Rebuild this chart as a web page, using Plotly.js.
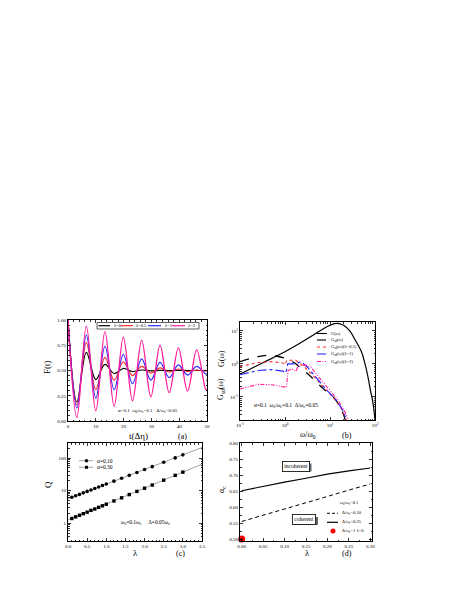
<!DOCTYPE html>
<html>
<head>
<meta charset="utf-8">
<script src="https://cdn.plot.ly/plotly-3.0.1.min.js"></script>
<style>
html, body { margin: 0; padding: 0; background: #fff; }
#myDiv { width: 463px; height: 599px; }
</style>
</head>
<body>
<div id="myDiv"></div>
<script>
// ---- panel (a): F(t), extremes of the oscillation
var t_a = [0, 3.2, 6.6, 10.0, 13.3, 16.6, 19.9, 23.2, 26.5, 29.8, 33.1, 36.4, 39.7, 43.0, 46.3, 49.6, 50];
var f_lam0  = [1.0, 0.19, 0.68, 0.41, 0.56, 0.47, 0.52, 0.49, 0.505, 0.497, 0.502, 0.499, 0.501, 0.50, 0.50, 0.50, 0.50];
var f_lam05 = [1.0, 0.16, 0.775, 0.31, 0.63, 0.405, 0.585, 0.45, 0.54, 0.475, 0.525, 0.485, 0.515, 0.49, 0.505, 0.495, 0.497];
var f_lam1  = [1.0, 0.13, 0.85, 0.225, 0.74, 0.31, 0.66, 0.37, 0.615, 0.405, 0.58, 0.43, 0.555, 0.455, 0.54, 0.465, 0.47];
var f_lam2  = [1.0, 0.035, 0.94, 0.10, 0.885, 0.145, 0.83, 0.20, 0.80, 0.24, 0.75, 0.28, 0.725, 0.295, 0.705, 0.31, 0.315];

// ---- panel (b): spectral densities
var g_w   = [0.1, 0.316, 1, 2, 4, 6.3, 10, 12.6, 15.8, 20, 27.5, 35.5, 50, 60, 71, 79, 89, 100];
var g_val = [0.49, 1.07, 2.34, 4.0, 7.1, 10.5, 14.8, 16.6, 16.6, 14.8, 10, 5.6, 2.34, 1.0, 0.36, 0.16, 0.074, 0.02];
var sd_w   = [0.1, 0.251, 0.501, 1, 1.585, 2.512, 3.98, 7.08, 12.6, 17.8, 21.9];
var sd_val = [1.17, 1.66, 1.82, 1.48, 1.10, 0.66, 0.38, 0.178, 0.089, 0.042, 0.02];
var sd05_w   = [0.1, 0.251, 0.501, 0.891, 1.0, 1.096, 1.738, 2.512, 4.17, 7.59, 13.8, 19.05, 22.9];
var sd05_val = [0.83, 1.10, 1.17, 1.07, 0.93, 1.29, 1.29, 0.89, 0.447, 0.178, 0.076, 0.038, 0.02];
var sd1_w   = [0.1, 0.251, 0.501, 0.891, 1.047, 1.148, 1.585, 2.29, 3.16, 4.47, 7.94, 14.1, 19.5, 23.4];
var sd1_val = [0.468, 0.631, 0.676, 0.603, 0.537, 1.0, 1.0, 1.15, 0.794, 0.447, 0.178, 0.076, 0.038, 0.02];
var sd2_w   = [0.1, 0.251, 0.501, 1, 1.072, 1.175, 1.413, 1.778, 1.95, 2.818, 3.80, 5.25, 8.91, 15.1, 20.9, 25.7];
var sd2_val = [0.174, 0.24, 0.234, 0.2, 0.195, 0.631, 0.708, 0.603, 0.891, 0.933, 0.794, 0.447, 0.191, 0.079, 0.038, 0.02];

// ---- panel (c): Q versus lambda
var lam_c = [0.1, 0.2, 0.3, 0.4, 0.5, 0.6, 0.7, 0.8, 0.9, 1.0, 1.2, 1.4, 1.6, 1.8, 2.0, 2.2, 2.5, 2.8, 3.0];
var q_a010 = [6.3, 7.0, 7.7, 8.6, 9.5, 10.5, 11.7, 13, 14.4, 16, 19.6, 24, 29.5, 36, 44.5, 54.5, 74, 101, 125];
var q_a030 = [1.41, 1.58, 1.77, 1.98, 2.2, 2.5, 2.75, 3.1, 3.45, 3.85, 4.85, 6.05, 7.6, 9.5, 11.9, 14.9, 21, 29.5, 37];
var fit_lam = [0, 3.5];
var fit_a010 = [5.7, 210];
var fit_a030 = [1.27, 65];

// ---- panel (d): alpha_c versus lambda
var lam_d = [0, 0.05, 0.10, 0.15, 0.20, 0.25, 0.30];
var ac_d010 = [0.555, 0.574, 0.594, 0.614, 0.633, 0.653, 0.672];
var ac_d025 = [0.651, 0.665, 0.678, 0.69, 0.703, 0.713, 0.722];
var dot_lam = [0];
var dot_ac = [0.5];

var FONT = 'Liberation Serif, Times New Roman, serif';
var W = 463, H = 599;
function px(x){ return x / W; }
function py(y){ return 1 - y / H; }

var RED = '#ff2a2a', BLUE = '#2a2aff', PINK = '#ff1a9a';

var data = [
    {x: t_a, y: f_lam0,  xaxis: 'x', yaxis: 'y', mode: 'lines', line: {color: 'black', width: 1.2, shape: 'spline'}},
    {x: t_a, y: f_lam05, xaxis: 'x', yaxis: 'y', mode: 'lines', line: {color: RED, width: 1.2, shape: 'spline'}},
    {x: t_a, y: f_lam1,  xaxis: 'x', yaxis: 'y', mode: 'lines', line: {color: BLUE, width: 1.2, shape: 'spline'}},
    {x: t_a, y: f_lam2,  xaxis: 'x', yaxis: 'y', mode: 'lines', line: {color: PINK, width: 1.3, shape: 'spline'}},

    {x: g_w, y: g_val, xaxis: 'x2', yaxis: 'y2', mode: 'lines', line: {color: 'black', width: 1.2, shape: 'spline'}},
    {x: sd_w, y: sd_val, xaxis: 'x2', yaxis: 'y2', mode: 'lines', line: {color: 'black', width: 1.3, dash: 'dash', shape: 'spline'}},
    {x: sd05_w, y: sd05_val, xaxis: 'x2', yaxis: 'y2', mode: 'lines', line: {color: RED, width: 1.1, dash: 'dot'}},
    {x: sd1_w, y: sd1_val, xaxis: 'x2', yaxis: 'y2', mode: 'lines', line: {color: BLUE, width: 1.2, dash: 'dashdot'}},
    {x: sd2_w, y: sd2_val, xaxis: 'x2', yaxis: 'y2', mode: 'lines', line: {color: PINK, width: 1.1, dash: '4px,1.5px,1px,1.5px,1px,1.5px'}},

    {x: fit_lam, y: fit_a010, xaxis: 'x3', yaxis: 'y3', mode: 'lines', line: {color: '#888', width: 0.8}},
    {x: fit_lam, y: fit_a030, xaxis: 'x3', yaxis: 'y3', mode: 'lines', line: {color: '#888', width: 0.8}},
    {x: lam_c, y: q_a010, xaxis: 'x3', yaxis: 'y3', mode: 'markers', marker: {color: 'black', size: 3.6, symbol: 'circle'}},
    {x: lam_c, y: q_a030, xaxis: 'x3', yaxis: 'y3', mode: 'markers', marker: {color: 'black', size: 3.4, symbol: 'square'}},

    {x: lam_d, y: ac_d025, xaxis: 'x4', yaxis: 'y4', mode: 'lines', line: {color: 'black', width: 1.2}},
    {x: lam_d, y: ac_d010, xaxis: 'x4', yaxis: 'y4', mode: 'lines', line: {color: 'black', width: 1, dash: '4px,3px'}},
    {x: dot_lam, y: dot_ac, xaxis: 'x4', yaxis: 'y4', mode: 'markers', marker: {color: 'red', size: 7}, cliponaxis: false}
];

function logMinor(lo, hi){
    var v = [];
    for (var e = lo; e < hi; e++)
        for (var k = 2; k <= 9; k++) v.push(k * Math.pow(10, e));
    return v;
}

function axis(dom, anchor, extra){
    var a = {
        domain: dom, anchor: anchor,
        showline: true, linecolor: 'black', linewidth: 1, mirror: 'ticks',
        ticks: 'inside', ticklen: 3, tickwidth: 0.8, tickcolor: 'black',
        tickfont: {family: FONT, size: 5, color: 'black'},
        showgrid: false, zeroline: false, fixedrange: true
    };
    for (var k in extra) a[k] = extra[k];
    return a;
}

var xA = [px(68), px(207)], yA = [py(421), py(320)];
var xB = [px(240), px(375)], yB = [py(420), py(322)];
var xC = [px(68), px(202)], yC = [py(541), py(443)];
var xD = [px(240), px(372)], yD = [py(541), py(443)];

var layout = {
    width: W, height: H,
    margin: {l: 0, r: 0, t: 0, b: 0},
    paper_bgcolor: 'white', plot_bgcolor: 'white',
    showlegend: false,
    font: {family: FONT, color: 'black'},
    xaxis: axis(xA, 'y', {range: [0, 50], dtick: 10, minor: {ticks: 'inside', ticklen: 1.5, dtick: 2, tickcolor: 'black'}}),
    yaxis: axis(yA, 'x', {range: [0, 1], dtick: 0.25, tickformat: '.2f', minor: {ticks: 'inside', ticklen: 1.5, dtick: 0.05, tickcolor: 'black'}}),
    xaxis2: axis(xB, 'y2', {type: 'log', range: [-1, 2], tickmode: 'array', tickvals: [0.1, 1, 10, 100],
        ticktext: ['10<sup>-1</sup>', '10<sup>0</sup>', '10<sup>1</sup>', '10<sup>2</sup>'],
        minor: {ticks: 'inside', ticklen: 1.5, tickmode: 'array', tickvals: logMinor(-1, 2), tickcolor: 'black'}}),
    yaxis2: axis(yB, 'x2', {type: 'log', range: [-1.7, 1.27], tickmode: 'array', tickvals: [0.1, 1, 10],
        ticktext: ['10<sup>-1</sup>', '10<sup>0</sup>', '10<sup>1</sup>'],
        minor: {ticks: 'inside', ticklen: 1.5, tickmode: 'array', tickvals: logMinor(-2, 2), tickcolor: 'black'}}),
    xaxis3: axis(xC, 'y3', {range: [0, 3.5], dtick: 0.5, tickformat: '.1f', minor: {ticks: 'inside', ticklen: 1.5, dtick: 0.1, tickcolor: 'black'}}),
    yaxis3: axis(yC, 'x3', {type: 'log', range: [-0.54, 2.46], tickmode: 'array', tickvals: [1, 10, 100], ticktext: ['1', '10', '100'],
        minor: {ticks: 'inside', ticklen: 1.5, tickmode: 'array', tickvals: logMinor(-1, 3), tickcolor: 'black'}}),
    xaxis4: axis(xD, 'y4', {range: [-0.004, 0.304], dtick: 0.05, tickformat: '.2f', minor: {ticks: 'inside', ticklen: 1.5, dtick: 0.025, tickcolor: 'black'}}),
    yaxis4: axis(yD, 'x4', {range: [0.494, 0.80], dtick: 0.05, tickformat: '.2f', minor: {ticks: 'inside', ticklen: 1.5, dtick: 0.025, tickcolor: 'black'}})
};

var ann = [];
function txt(s, x, y, size, extra){
    var a = {text: s, x: px(x), y: py(y), xref: 'paper', yref: 'paper', showarrow: false,
             font: {family: FONT, size: size, color: 'black'}, xanchor: 'center', yanchor: 'middle'};
    for (var k in extra) a[k] = extra[k];
    ann.push(a);
}

var shapes = [];
function seg(x0, x1, y, color, width, dash){
    shapes.push({type: 'line', xref: 'paper', yref: 'paper', x0: px(x0), x1: px(x1), y0: py(y), y1: py(y),
                 line: {color: color, width: width, dash: dash || 'solid'}});
}

// axis titles and panel labels
txt('F(t)', 47, 367, 9, {textangle: -90});
txt('t(Δη)', 138, 436, 9);
txt('(a)', 182, 436, 8);
txt('G(ω)', 221, 359, 8, {textangle: -90});
txt('G<sub>sd</sub>(ω)', 221, 389, 8, {textangle: -90});
txt('ω/ω<sub>0</sub>', 308, 435, 8);
txt('(b)', 347, 435, 8);
txt('Q', 48, 485, 9, {textangle: -90});
txt('λ', 135, 553, 9);
txt('(c)', 180, 553, 8);
txt('α<sub>c</sub>', 222, 490, 8, {textangle: -90});
txt('λ', 307, 553, 9);
txt('(d)', 347, 553, 8);

// parameter notes
txt('α=0.1  ω<sub>0</sub>/ω<sub>c</sub>=0.1   Δ/ω<sub>c</sub>=0.05', 148, 411, 5);
txt('α=0.1  ω<sub>0</sub>/ω<sub>c</sub>=0.1  Δ/ω<sub>c</sub>=0.05', 286, 405, 5.5);
txt('ω<sub>s</sub>=0.1ω<sub>c</sub>     Δ=0.05ω<sub>c</sub>', 145, 522, 5.5);

// incoherent / coherent boxes, gray shadow drawn as a rect behind
var boxes = [['incoherent', 296, 466, 282, 310], ['coherent', 304, 519.5, 292, 316.5]];
boxes.forEach(function(b){
    shapes.push({type: 'rect', xref: 'paper', yref: 'paper', layer: 'below',
                 x0: px(b[3] + 1.5), x1: px(b[4] + 1.5), y0: py(b[2] + 5.5), y1: py(b[2] - 2.5),
                 fillcolor: '#666', line: {width: 0}});
    txt(b[0], b[1], b[2], 5.5, {bgcolor: 'white', bordercolor: 'black', borderwidth: 0.8, borderpad: 1.5});
});

// legend (a)
shapes.push({type: 'rect', xref: 'paper', yref: 'paper', x0: px(97), x1: px(199), y0: py(329), y1: py(322.5),
             line: {color: '#333', width: 0.8}, fillcolor: 'white'});
var legA = [['λ=0', 'black', 98.5, 110, 111.5], ['λ=0.5', RED, 121, 133, 134], ['λ=1', BLUE, 148, 161, 162.5], ['λ=2', PINK, 172, 185, 186]];
legA.forEach(function(e){
    seg(e[2], e[3], 325.7, e[1], 1.2);
    txt(e[0], e[4], 325.7, 4.5, {xanchor: 'left'});
});

// legend (b)
var legB = [['G(ω)', 'black', 'solid', 333.5], ['G<sub>sd</sub>(ω)', 'black', 'dash', 340],
            ['G<sub>sd</sub>(ω)(λ=0.5)', RED, 'dot', 347], ['G<sub>sd</sub>(ω)(λ=1)', BLUE, 'dashdot', 354],
            ['G<sub>sd</sub>(ω)(λ=2)', PINK, '4px,1.5px,1px,1.5px,1px,1.5px', 361.5]];
legB.forEach(function(e){
    seg(317, 327, e[3], e[1], 1.1, e[2]);
    txt(e[0], 328.5, e[3], 4.5, {xanchor: 'left'});
});

// legend (c)
seg(79, 93, 460.7, '#888', 0.8);
seg(79, 93, 467.3, '#888', 0.8);
shapes.push({type: 'circle', xref: 'paper', yref: 'paper', x0: px(84.8), x1: px(88.2), y0: py(462.4), y1: py(459),
             fillcolor: 'black', line: {width: 0}});
shapes.push({type: 'rect', xref: 'paper', yref: 'paper', x0: px(85), x1: px(88), y0: py(468.8), y1: py(465.8),
             fillcolor: 'black', line: {width: 0}});
txt('α=0.10', 94.5, 460.7, 5.5, {xanchor: 'left'});
txt('α=0.30', 94.5, 467.3, 5.5, {xanchor: 'left'});

// legend (d)
txt('ω<sub>0</sub>/ω<sub>c</sub>=0.1', 338, 503.3, 4.5, {xanchor: 'left'});
seg(327, 338, 513.3, 'black', 1, '3px,2px');
txt('Δ/ω<sub>c</sub>=0.10', 339.5, 513.3, 4.5, {xanchor: 'left'});
seg(327, 338, 522.3, 'black', 1.2);
txt('Δ/ω<sub>c</sub>=0.25', 339.5, 522.3, 4.5, {xanchor: 'left'});
shapes.push({type: 'circle', xref: 'paper', yref: 'paper', x0: px(330.5), x1: px(335.5), y0: py(533.5), y1: py(528.5),
             fillcolor: 'red', line: {width: 0}});
txt('Δ/ω<sub>c</sub>=1 λ=0', 339.5, 531, 4.5, {xanchor: 'left'});

layout.annotations = ann;
layout.shapes = shapes;

Plotly.newPlot('myDiv', data, layout, {staticPlot: true, displayModeBar: false});
</script>
</body>
</html>
